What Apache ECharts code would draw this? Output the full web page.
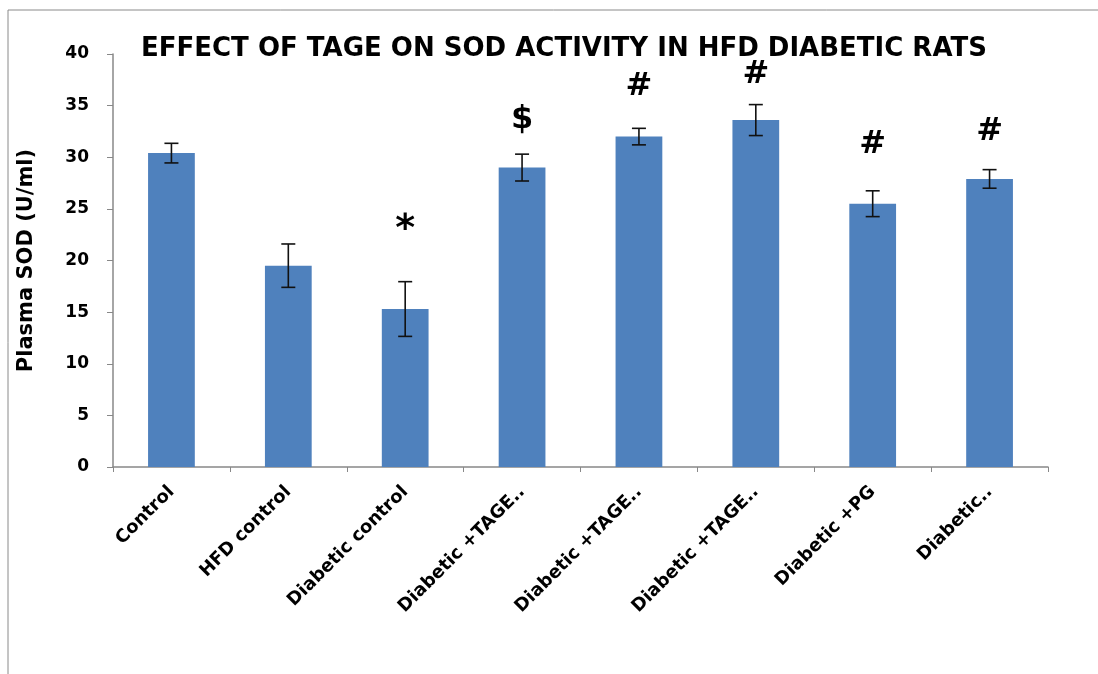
<!DOCTYPE html>
<html>
<head>
<meta charset="utf-8">
<script src="https://cdn.jsdelivr.net/npm/echarts@6/dist/echarts.min.js"></script>
<style>
  html, body { margin: 0; padding: 0; background: #fff; }
  #chart { width: 1098px; height: 674px; }
</style>
</head>
<body>
<div id="chart"></div>
<script>
const categories = ['Control', 'HFD control', 'Diabetic control', 'Diabetic +TAGE..', 'Diabetic +TAGE..', 'Diabetic +TAGE..', 'Diabetic +PG', 'Diabetic..']
const sodMean = [30.4, 19.5, 15.3, 29.0, 32.0, 33.6, 25.5, 27.9]
const sodError = [0.95, 2.1, 2.65, 1.3, 0.8, 1.5, 1.25, 0.9]
const markLabels = ['', '', '*', '$', '#', '#', '#', '#']
const markLevel = [0, 0, 22.9, 33.6, 36.8, 38.0, 31.2, 32.5]
const yTicks = [0, 5, 10, 15, 20, 25, 30, 35, 40]

const chart = echarts.init(document.getElementById('chart'))

const errorData = sodMean.map((m, i) => [i, m - sodError[i], m + sodError[i]])
const markData = markLabels.map((t, i) => [i, markLevel[i], t]).filter(d => d[2] !== '')

const option = {
  animation: false,
  title: {
    text: 'EFFECT OF TAGE ON SOD ACTIVITY IN HFD DIABETIC RATS',
    left: 136,
    top: 31,
    textStyle: {
      fontFamily: 'DejaVu Sans',
      fontWeight: 'bold',
      fontSize: 26,
      color: '#000',
    },
  },
  graphic: [
    {
      type: 'rect',
      shape: { x: 8, y: 10, width: 1200, height: 700 },
      style: { fill: 'none', stroke: '#8a8a8a', lineWidth: 1 },
      silent: true,
    },
  ],
  grid: { left: 113, right: 50, top: 54, bottom: 207 },
  xAxis: {
    type: 'category',
    data: categories,
    axisLine: { lineStyle: { color: '#888', width: 1.5 } },
    axisTick: { show: true, length: 5, lineStyle: { color: '#888' } },
    axisLabel: {
      interval: 0,
      rotate: 45,
      margin: 22,
      color: '#000',
      fontFamily: 'DejaVu Sans',
      fontWeight: 'bold',
      fontSize: 18,
    },
  },
  yAxis: {
    type: 'value',
    min: yTicks[0],
    max: yTicks[yTicks.length - 1],
    interval: 5,
    name: 'Plasma SOD (U/ml)',
    nameLocation: 'middle',
    nameGap: 76,
    nameTextStyle: {
      fontFamily: 'DejaVu Sans',
      fontWeight: 'bold',
      fontSize: 21,
      color: '#000',
    },
    axisLine: { show: true, lineStyle: { color: '#888', width: 1.5 } },
    axisTick: { show: true, length: 6, lineStyle: { color: '#888' } },
    axisLabel: {
      margin: 24,
      color: '#000',
      fontFamily: 'DejaVu Sans',
      fontWeight: 'bold',
      fontSize: 17,
    },
    splitLine: { show: false },
  },
  series: [
    {
      type: 'bar',
      data: sodMean,
      barCategoryGap: '60%',
      itemStyle: { color: '#4F81BD' },
    },
    {
      type: 'custom',
      data: errorData,
      z: 5,
      renderItem: (params, api) => {
        const lo = api.coord([api.value(0), api.value(1)])
        const hi = api.coord([api.value(0), api.value(2)])
        const half = 7
        const style = { stroke: '#111', lineWidth: 1.6 }
        return {
          type: 'group',
          children: [
            { type: 'line', shape: { x1: hi[0], y1: hi[1], x2: lo[0], y2: lo[1] }, style },
            { type: 'line', shape: { x1: hi[0] - half, y1: hi[1], x2: hi[0] + half, y2: hi[1] }, style },
            { type: 'line', shape: { x1: lo[0] - half, y1: lo[1], x2: lo[0] + half, y2: lo[1] }, style },
          ],
        }
      },
    },
    {
      type: 'custom',
      data: markData,
      z: 6,
      renderItem: (params, api) => {
        const p = api.coord([api.value(0), api.value(1)])
        const label = markData[params.dataIndex][2]
        return {
          type: 'text',
          x: p[0],
          y: p[1],
          style: {
            text: label,
            fill: '#000',
            fontFamily: 'DejaVu Sans',
            fontWeight: 'bold',
            fontSize: label === '*' ? 38 : 32,
            align: 'center',
            verticalAlign: 'middle',
          },
        }
      },
    },
  ],
}

chart.setOption(option)
</script>
</body>
</html>
